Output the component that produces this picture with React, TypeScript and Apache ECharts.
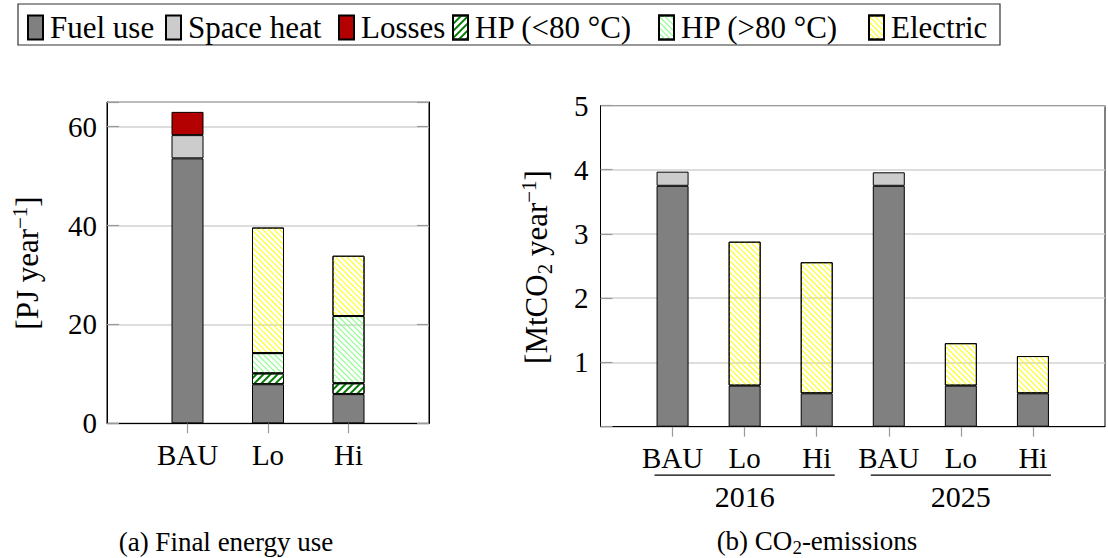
import React, { useEffect, useRef } from 'react';
import * as echarts from 'echarts';

const FONT = 'Liberation Serif, serif';

// ---- data ----
const legendNames = ['Fuel use', 'Space heat', 'Losses', 'HP (<80 °C)', 'HP (>80 °C)', 'Electric'];

const leftCategories = ['BAU', 'Lo', 'Hi'];
const leftFuel = [53.6, 7.9, 5.9];
const leftSpaceHeat = [4.7, null, null];
const leftLosses = [4.7, null, null];
const leftHpLow = [null, 2.2, 2.2];
const leftHpHigh = [null, 4.1, 13.6];
const leftElectric = [null, 25.4, 12.2];
const leftTickLabels = [0, 20, 40, 60];
const leftMax = 65;

const rightCategories = ['BAU', 'Lo', 'Hi', 'BAU', 'Lo', 'Hi'];
const rightYears = ['2016', '2025'];
const rightFuel = [3.75, 0.64, 0.52, 3.75, 0.64, 0.52];
const rightSpaceHeat = [0.22, null, null, 0.21, null, null];
const rightElectric = [null, 2.24, 2.04, null, 0.66, 0.58];
const rightTickLabels = [1, 2, 3, 4, 5];
const rightMax = 5;

// ---- styles ----
const hatch = (color: string, rotation: number, w = 1, gap = 3) => ({
  symbol: 'rect',
  symbolSize: 1,
  color,
  dashArrayX: [1, 0],
  dashArrayY: [w, gap],
  rotation,
});

const seriesStyle: Record<string, any> = {
  'Fuel use': { color: '#808080', borderColor: '#000', borderWidth: 1 },
  'Space heat': { color: '#cccccc', borderColor: '#000', borderWidth: 1 },
  'Losses': { color: '#b30000', borderColor: '#000', borderWidth: 1 },
  'HP (<80 °C)': { color: 'rgba(255,255,255,0)', borderColor: '#000', borderWidth: 1, decal: hatch('#007a00', -Math.PI / 4, 1.4, 2.8) },
  'HP (>80 °C)': { color: 'rgba(255,255,255,0)', borderColor: '#000', borderWidth: 1, decal: hatch('#80ff80', Math.PI / 4, 1, 3) },
  'Electric': { color: 'rgba(255,255,255,0)', borderColor: '#000', borderWidth: 1, decal: hatch('#ffff00', Math.PI / 4, 1, 3) },
};

const legendX = [27, 165, 338, 452, 658, 868];

const txt = (size: number, extra: any = {}) => ({ fontFamily: FONT, fontSize: size, color: '#000', ...extra });

export default function App() {
  const ref = useRef<HTMLDivElement>(null);

  useEffect(() => {
    const chart = echarts.init(ref.current!, null, { renderer: 'svg' });
    const pad = (arr: (number | null)[]) => ['-', ...arr.map((v) => (v == null ? '-' : v)), '-'];
    const catPad = (arr: string[]) => ['', ...arr, ''];

    const tickColor = '#9a9a9a';
    const gridColor = '#d2d2d2';

    const mkX = (gridIndex: number, cats: string[]) => ({
      type: 'category',
      gridIndex,
      data: catPad(cats),
      boundaryGap: false,
      axisLine: { show: true, lineStyle: { color: '#000', width: 1 } },
      axisTick: {
        show: true,
        length: 10,
        inside: false,
        interval: (i: number) => i > 0 && i < cats.length + 1,
        lineStyle: { color: tickColor, width: 1.2 },
      },
      axisLabel: { ...txt(29), margin: 17, interval: 0 },
      splitLine: { show: false },
    });

    const mkY = (gridIndex: number, max: number, interval: number, labels: number[], margin: number) => ({
      type: 'value',
      gridIndex,
      min: 0,
      max,
      interval,
      axisLine: { show: true, lineStyle: { color: '#000', width: 1 } },
      axisTick: { show: true, inside: true, length: 12, lineStyle: { color: tickColor, width: 1.2 } },
      axisLabel: {
        ...txt(29),
        margin,
        formatter: (v: number) => (labels.includes(v) ? String(v) : ''),
      },
      splitLine: { show: true, lineStyle: { color: gridColor, width: 1.5 } },
    });

    const leftSeriesData: [string, (number | null)[]][] = [
      ['Fuel use', leftFuel],
      ['Space heat', leftSpaceHeat],
      ['Losses', leftLosses],
      ['HP (<80 °C)', leftHpLow],
      ['HP (>80 °C)', leftHpHigh],
      ['Electric', leftElectric],
    ];
    const rightSeriesData: [string, (number | null)[]][] = [
      ['Fuel use', rightFuel],
      ['Space heat', rightSpaceHeat],
      ['Electric', rightElectric],
    ];

    const series: any[] = [];
    leftSeriesData.forEach(([name, data]) =>
      series.push({
        type: 'bar',
        name,
        stack: 'left',
        xAxisIndex: 0,
        yAxisIndex: 0,
        barWidth: 32,
        data: pad(data),
        itemStyle: seriesStyle[name],
      })
    );
    rightSeriesData.forEach(([name, data]) =>
      series.push({
        type: 'bar',
        name,
        stack: 'right',
        xAxisIndex: 1,
        yAxisIndex: 2,
        barWidth: 32,
        data: pad(data),
        itemStyle: seriesStyle[name],
      })
    );

    const legends = legendNames.map((n, i) => ({
      data: [n],
      left: legendX[i],
      top: 12,
      padding: 0,
      itemGap: 0,
      itemWidth: 15,
      itemHeight: 24,
      icon: 'rect',
      selectedMode: false,
      textStyle: { ...txt(31), padding: [6, 0, 0, 2] },
    }));

    const richMain = txt(31, { verticalAlign: 'bottom', padding: [0, 0, 4, 0] });
    const richSub = txt(21, { verticalAlign: 'bottom', padding: [0, 0, 0, 0] });
    const richSup = txt(21, { verticalAlign: 'bottom', padding: [0, 0, 16, 0] });
    const capMain = txt(27, { verticalAlign: 'bottom', padding: [0, 0, 3, 0] });
    const capSub = txt(19, { verticalAlign: 'bottom' });

    const option: any = {
      animation: false,
      backgroundColor: '#fff',
      textStyle: { fontFamily: FONT },
      legend: legends,
      grid: [
        { left: 107, top: 102, width: 322, height: 321.3, show: true, borderColor: '#000', borderWidth: 1, backgroundColor: 'transparent' },
        { left: 600.5, top: 105.5, width: 514, height: 321.2, show: true, borderColor: '#000', borderWidth: 1, backgroundColor: 'transparent' },
      ],
      xAxis: [mkX(0, leftCategories), mkX(1, rightCategories)],
      yAxis: [
        mkY(0, leftMax, 20, leftTickLabels, 10),
        { ...mkY(0, leftMax, 20, [], 10), position: 'right', axisLabel: { show: false }, splitLine: { show: false } },
        mkY(1, rightMax, 1, rightTickLabels, 12),
      ],
      series,
      graphic: [
        {
          id: 'legendBox',
          type: 'rect',
          shape: { x: 18, y: 4, width: 982, height: 41 },
          style: { fill: 'none', stroke: '#333', lineWidth: 1.2 },
          silent: true,
        },
        {
          id: 'yNameLeft',
          type: 'text',
          x: 28,
          y: 263,
          rotation: Math.PI / 2,
          style: {
            text: '{m|[PJ year}{p|−1}{m|]}',
            rich: { m: richMain, p: richSup },
            align: 'center',
            verticalAlign: 'middle',
          },
        },
        {
          id: 'yNameRight',
          type: 'text',
          x: 537,
          y: 267,
          rotation: Math.PI / 2,
          style: {
            text: '{m|[MtCO}{b|2}{m| year}{p|−1}{m|]}',
            rich: { m: richMain, b: richSub, p: richSup },
            align: 'center',
            verticalAlign: 'middle',
          },
        },
        {
          id: 'capA',
          type: 'text',
          x: 226,
          y: 542,
          style: { text: '(a) Final energy use', ...txt(27), fill: '#000', align: 'center', verticalAlign: 'middle' },
        },
        {
          id: 'capB',
          type: 'text',
          x: 817,
          y: 542,
          style: {
            text: '{m|(b) CO}{b|2}{m|-emissions}',
            rich: { m: capMain, b: capSub },
            align: 'center',
            verticalAlign: 'middle',
          },
        },
      ],
    };

    chart.setOption(option);

    // group labels under the right chart, positioned from the axis scale
    const px = (i: number) => chart.convertToPixel({ xAxisIndex: 1 }, i) as number;
    const yBase = chart.convertToPixel({ yAxisIndex: 2 }, 0) as number;
    const band = px(2) - px(1);
    const extra: any[] = [];
    rightYears.forEach((yr, g) => {
      const first = 1 + g * 3;
      const last = 3 + g * 3;
      const x0 = px(first) - band * 0.25;
      const x1 = px(last) + band * 0.25;
      extra.push({
        id: 'gl' + g,
        type: 'line',
        shape: { x1: x0, y1: yBase + 48.5, x2: x1, y2: yBase + 48.5 },
        style: { stroke: '#000', lineWidth: 1.2 },
        silent: true,
      });
      extra.push({
        id: 'gy' + g,
        type: 'text',
        x: px(first + 1),
        y: yBase + 70,
        style: { text: yr, ...txt(30), fill: '#000', align: 'center', verticalAlign: 'middle' },
      });
    });
    chart.setOption({ graphic: extra });

    return () => chart.dispose();
  }, []);

  return <div ref={ref} style={{ position: 'absolute', left: 0, top: 0, width: 1108, height: 558 }} />;
}
